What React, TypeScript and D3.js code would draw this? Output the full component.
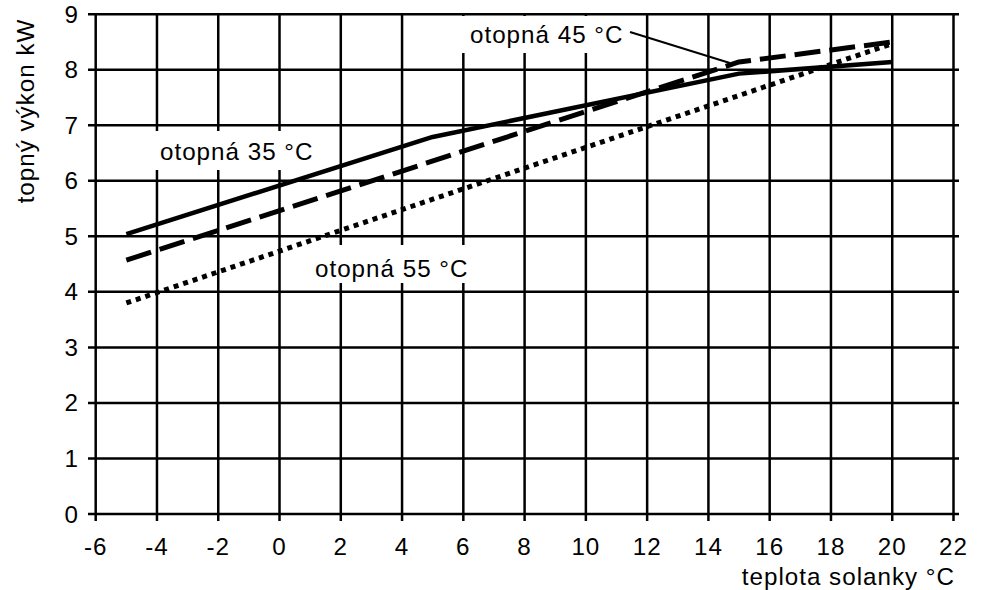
import React from "react";
import * as d3 from "d3";

const xTicks = [-6, -4, -2, 0, 2, 4, 6, 8, 10, 12, 14, 16, 18, 20, 22];
const yTicks = [0, 1, 2, 3, 4, 5, 6, 7, 8, 9];

const seriesNames = ["otopná 35 °C", "otopná 45 °C", "otopná 55 °C"];
const s35x = [-5, 5, 15, 20];
const s35y = [5.04, 6.79, 7.93, 8.14];
const s45x = [-5, 15, 20];
const s45y = [4.57, 8.14, 8.5];
const s55x = [-5, 20];
const s55y = [3.8, 8.47];

const xTitle = "teplota solanky °C";
const yTitle = "topný výkon kW";

const W = 987;
const H = 590;
const FONT = "'Liberation Sans', Arial, sans-serif";
const FS = 24.2;
const LS = 1;

export default function App() {
  const x = d3.scaleLinear().domain([-6, 22]).range([95.7, 953.5]);
  const y = d3.scaleLinear().domain([0, 9]).range([514, 14.2]);
  const line = d3
    .line<[number, number]>()
    .x((d) => x(d[0]))
    .y((d) => y(d[1]));

  const zip = (xs: number[], ys: number[]) =>
    xs.map((v, i) => [v, ys[i]] as [number, number]);

  const series = [
    { d: zip(s35x, s35y), dash: undefined as string | undefined, w: 4.5 },
    { d: zip(s45x, s45y), dash: "26 9", w: 5 },
    { d: zip(s55x, s55y), dash: "5 5", w: 5 },
  ];

  const txt = { fontSize: FS, letterSpacing: LS } as any;

  return (
    <svg
      width={W}
      height={H}
      style={{ position: "absolute", left: 0, top: 0, background: "#fff" }}
      fontFamily={FONT}
    >
      <rect x={0} y={0} width={W} height={H} fill="#fff" />
      {yTicks.map((t) => (
        <line
          key={"h" + t}
          x1={88}
          x2={959}
          y1={y(t)}
          y2={y(t)}
          stroke="#000"
          strokeWidth={2.5}
        />
      ))}
      {xTicks.map((t) => (
        <line
          key={"v" + t}
          x1={x(t)}
          x2={x(t)}
          y1={y(9) - 1}
          y2={y(0) + 7}
          stroke="#000"
          strokeWidth={2.5}
        />
      ))}
      <rect x={150} y={131} width={178} height={39} fill="#fff" />
      <rect x={307} y={245} width={168} height={38} fill="#fff" />
      <rect x={462} y={16} width={172} height={37} fill="#fff" />
      {series.map((s, i) => (
        <path
          key={i}
          d={line(s.d) || ""}
          fill="none"
          stroke="#000"
          strokeWidth={s.w}
          strokeDasharray={s.dash}
          strokeLinecap="butt"
          strokeLinejoin="round"
        />
      ))}
      <line
        x1={630}
        y1={32}
        x2={x(14.7)}
        y2={y(8.12)}
        stroke="#000"
        strokeWidth={2}
      />
      <text x={160} y={160} style={txt}>
        {seriesNames[0]}
      </text>
      <text x={470} y={43} style={txt}>
        {seriesNames[1]}
      </text>
      <text x={315} y={277} style={txt}>
        {seriesNames[2]}
      </text>
      {yTicks.map((t) => (
        <text
          key={"yl" + t}
          x={79}
          y={y(t) + 8.5}
          style={txt}
          textAnchor="end"
        >
          {t}
        </text>
      ))}
      {xTicks.map((t) => (
        <text
          key={"xl" + t}
          x={x(t)}
          y={555}
          style={txt}
          textAnchor="middle"
        >
          {t}
        </text>
      ))}
      <text x={955} y={585} style={txt} textAnchor="end">
        {xTitle}
      </text>
      <text
        transform={`translate(34, 111) rotate(-90)`}
        style={txt}
        textAnchor="middle"
      >
        {yTitle}
      </text>
    </svg>
  );
}
